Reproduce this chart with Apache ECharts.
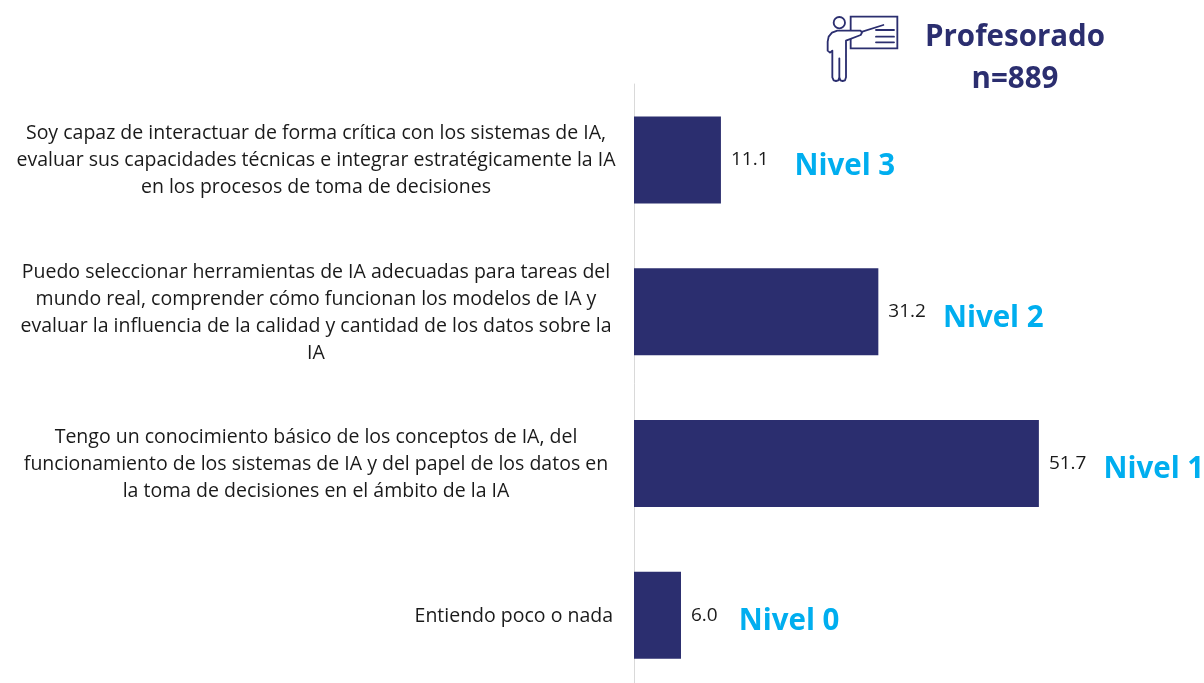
<!DOCTYPE html>
<html><head><meta charset="utf-8">
<style>html,body{margin:0;padding:0;background:#fff}#c{width:1204px;height:683px}</style>
<script src="https://cdn.jsdelivr.net/npm/echarts@6/dist/echarts.min.js"></script>
</head><body><div id="c"></div>
<script>
const categories = [
  "Soy capaz de interactuar de forma crítica con los sistemas de IA,\nevaluar sus capacidades técnicas e integrar estratégicamente la IA\nen los procesos de toma de decisiones",
  "Puedo seleccionar herramientas de IA adecuadas para tareas del\nmundo real, comprender cómo funcionan los modelos de IA y\nevaluar la influencia de la calidad y cantidad de los datos sobre la\nIA",
  "Tengo un conocimiento básico de los conceptos de IA, del\nfuncionamiento de los sistemas de IA y del papel de los datos en\nla toma de decisiones en el ámbito de la IA",
  "Entiendo poco o nada"
];
const values = [11.1, 31.2, 51.7, 6.0];
const niveles = ["Nivel 3", "Nivel 2", "Nivel 1", "Nivel 0"];
const titleLines = ["Profesorado", "n=889"];
const navy = "#2b2e6f", cyan = "#00aeef";
const font = "'Open Sans'";
const chart = echarts.init(document.getElementById('c'), null, {renderer:'canvas'});
const gapStyle = i => ['n26','n17','n17','n21'][i];
const nivelRich = pad => ({fontFamily:font,fontSize:29.5,fontWeight:700,color:cyan,padding:[13,0,0,pad]});
const iconStroke = {fill:'none',stroke:navy,lineWidth:5.5,lineJoin:'round',lineCap:'round'};
chart.setOption({
  animation:false,
  backgroundColor:'#fff',
  title:{
    text:titleLines.join("\n"), left:1010, top:12, textAlign:'center',
    textStyle:{fontFamily:font,fontSize:29.5,fontWeight:700,color:navy,lineHeight:42}
  },
  grid:{left:634,top:84,right:21.8,bottom:-8,containLabel:false,outerBoundsMode:'none'},
  xAxis:{type:'value',min:0,max:70,show:false},
  yAxis:{type:'category',inverse:true,data:categories,
    axisLine:{show:true,lineStyle:{color:'#d9d9d9',width:1}},
    axisTick:{show:false},
    axisLabel:{
      interval:0,align:'center',margin:318,padding:[2,0,0,0],fontFamily:font,fontSize:19.5,color:'#1a1a1a',lineHeight:27,
      formatter:(v,i)=>i===3?'{r|'+v+'}':v,
      rich:{r:{fontFamily:font,fontSize:19.5,color:'#1a1a1a',width:594,align:'right'}}
    }
  },
  series:[{
    type:'bar',data:values,barWidth:87,itemStyle:{color:navy},
    label:{show:true,position:'right',distance:10,
      formatter:p=>'{v|'+p.value.toFixed(1)+'}{'+gapStyle(p.dataIndex)+'|'+niveles[p.dataIndex]+'}',
      rich:{v:{fontFamily:font,fontSize:19,color:'#1a1a1a'},n26:nivelRich(26),n17:nivelRich(17),n21:nivelRich(21)}
    }
  }],
  graphic:[{
    type:'group',x:810,y:0,scaleX:1/3,scaleY:1/3,silent:true,
    children:[
      {type:'rect',shape:{x:122,y:50,width:140,height:95},style:{fill:'none',stroke:navy,lineWidth:5.5}},
      {type:'circle',shape:{cx:88,cy:68,r:17},style:{fill:'#fff',stroke:navy,lineWidth:5.5}},
      {type:'line',shape:{x1:150,y1:97,x2:220,y2:75},style:iconStroke},
      {type:'line',shape:{x1:198,y1:90,x2:252,y2:90},style:iconStroke},
      {type:'line',shape:{x1:198,y1:110,x2:252,y2:110},style:iconStroke},
      {type:'line',shape:{x1:198,y1:127,x2:252,y2:127},style:iconStroke},
      {type:'polygon',shape:{points:[[152,92],[82,92],[66,98],[56,110],[53,125],[53,152],[60,158],[67,152],[67,232],[71,241],[78,243],[85,241],[88,232],[88,175],[88,232],[91,241],[98,243],[105,241],[108,232],[108,122],[152,105],[156,98]]},style:{fill:'#fff',stroke:navy,lineWidth:5.5,lineJoin:'round'}}
    ]
  }]
});
</script></body></html>
